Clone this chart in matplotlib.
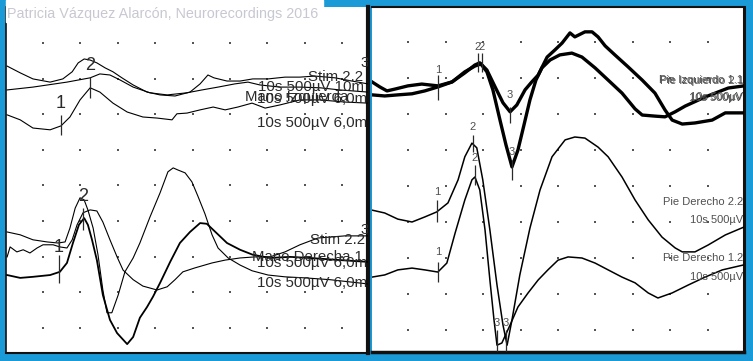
"""Evoked potential screenshot: two panels of traces on a dotted grid."""

import matplotlib.pyplot as plt
from matplotlib.patches import Rectangle

BLUE = '#1b9ad8'
INK = '#2a2a2a'
GREY = '#505050'
SANS = ['Liberation Sans', 'DejaVu Sans']

# ---- left panel (units: grid divisions, y counted down from the top) ----
top_a_x = [0.04, 0.39, 0.73, 1.19, 1.53, 1.78, 1.94, 2.10, 2.26, 2.44, 2.66, 2.87, 3.11, 3.41, 3.78,
           4.13, 4.53, 4.93, 5.20, 5.41, 5.57, 5.92, 6.27, 6.61, 7.02, 7.47, 7.87, 8.27, 8.81, 9.26, 9.69]
top_a_y = [1.65, 1.84, 2.01, 2.10, 2.01, 1.81, 1.56, 1.45, 1.48, 1.56, 1.70, 1.81, 1.98, 2.18, 2.38,
           2.46, 2.49, 2.38, 2.15, 1.90, 1.98, 2.07, 2.07, 2.01, 2.01, 1.96, 1.96, 1.93, 1.98, 2.07, 2.15]

top_b_x = [0.04, 0.73, 1.64, 2.26, 2.52, 2.79, 3.06, 3.41, 3.86, 4.32, 4.85, 5.25, 5.68, 6.13, 6.48,
           6.80, 7.34, 7.87, 8.41, 8.94, 9.69]
top_b_y = [2.32, 2.24, 2.10, 1.98, 1.87, 1.90, 2.04, 2.24, 2.40, 2.46, 2.40, 2.32, 2.24, 2.15, 2.10,
           2.18, 2.24, 2.24, 2.26, 2.32, 2.38]

top_c_x = [0.04, 0.39, 0.73, 1.19, 1.48, 1.72, 1.99, 2.26, 2.52, 2.87, 3.25, 3.67, 4.05, 4.45, 4.58,
           4.85, 5.20, 5.55, 5.87, 6.21, 6.59, 6.94, 7.34, 7.87, 8.41, 9.07, 9.69]
top_c_y = [3.02, 3.16, 3.39, 3.44, 3.33, 3.08, 2.60, 2.26, 2.38, 2.69, 2.94, 3.08, 3.11, 3.16, 2.99,
           2.97, 2.88, 2.80, 2.88, 2.80, 2.69, 2.83, 2.74, 2.60, 2.60, 2.66, 2.69]

low_d_x = [0.04, 0.39, 0.73, 1.19, 1.45, 1.64, 1.80, 1.96, 2.10, 2.20, 2.31, 2.44, 2.60, 2.79, 2.98,
           3.25, 3.41, 3.59, 3.78, 3.94, 4.13, 4.40, 4.66, 4.93, 5.20, 5.38, 5.55, 5.92, 6.27, 6.61,
           7.07, 7.60, 8.14, 8.94, 9.69]
low_d_y = [7.52, 7.60, 7.57, 7.52, 7.43, 7.18, 6.62, 6.11, 5.92, 6.11, 6.53, 7.10, 8.08, 8.78, 9.15,
           9.46, 9.26, 8.72, 8.42, 8.13, 7.74, 7.15, 6.62, 6.31, 6.06, 6.08, 6.25, 6.62, 6.81, 6.95,
           7.04, 7.01, 7.04, 7.10, 7.15]

low_e_x = [0.04, 0.39, 0.73, 1.11, 1.40, 1.59, 1.72, 1.86, 1.99, 2.10, 2.20, 2.34, 2.47, 2.60, 2.71,
           2.84, 3.01, 3.19, 3.41, 3.59, 3.86, 4.13, 4.34, 4.48, 4.61, 4.80, 4.98, 5.14, 5.33, 5.52,
           5.68, 5.95, 6.27, 6.59, 7.02, 7.47, 8.01, 8.67, 9.69]
low_e_y = [6.31, 6.39, 6.53, 6.59, 6.62, 6.59, 6.20, 5.64, 5.35, 5.41, 5.69, 6.20, 6.95, 7.94, 8.58,
           8.58, 8.08, 7.43, 7.04, 6.62, 5.89, 5.21, 4.62, 4.51, 4.57, 4.65, 4.90, 5.30, 5.80, 6.39,
           6.76, 7.04, 7.24, 7.40, 7.52, 7.57, 7.60, 7.65, 7.77]

low_f_x = [0.04, 0.12, 0.30, 0.47, 0.65, 0.84, 1.00, 1.27, 1.45, 1.64, 1.78, 1.91, 2.07, 2.26, 2.44,
           2.60, 2.79, 2.98, 3.14, 3.41, 3.67, 4.05, 4.32, 4.53, 4.74, 5.06, 5.52, 5.87, 6.27, 6.67,
           7.07, 7.47, 7.87, 8.35, 9.07, 9.69]
low_f_y = [7.01, 6.73, 6.87, 6.81, 6.90, 6.76, 6.67, 6.67, 6.73, 6.76, 6.53, 6.11, 5.77, 5.69, 5.72,
           6.03, 6.53, 7.01, 7.38, 7.65, 7.83, 7.94, 7.85, 7.65, 7.43, 7.32, 7.18, 7.10, 7.04, 7.01,
           7.01, 6.87, 6.67, 6.48, 6.42, 6.42]

# markers: label, x, tick top, tick bottom, label y
left_marks = [('1', 1.48, 3.02, 3.58, 2.69), ('2', 2.26, 1.96, 2.54, 1.62),
              ('2', 2.07, 5.64, 6.25, 5.30), ('1', 1.43, 6.95, 7.74, 6.76)]

# labels: text, x start, y
left_labels = [('Stim 2.2', 8.09, 1.96), ('3', 9.50, 1.56), ('10s 500µV 10m', 6.75, 2.24),
               ('Mano Izquierda', 6.40, 2.52), ('10s 500µV 6,0m', 6.72, 2.57),
               ('10s 500µV 6,0m', 6.72, 3.25),
               ('Stim 2.2', 8.14, 6.53), ('3', 9.50, 6.25), ('Mano Derecha 1', 6.59, 7.01),
               ('10s 500µV 6,0m', 6.72, 7.18), ('10s 500µV 6,0m', 6.72, 7.74)]

# ---- right panel ----
pie_izq_1_x = [0.03, 0.24, 0.43, 0.64, 0.99, 1.36, 1.79, 2.17, 2.51, 2.78, 2.91, 3.10, 3.32, 3.53,
               3.72, 3.90, 4.12, 4.30, 4.47, 4.71, 4.92, 5.11, 5.32, 5.45, 5.72, 5.91, 6.07, 6.26,
               6.52, 6.87, 7.25, 7.59, 7.86, 8.05, 8.32, 8.66, 9.12, 9.47, 9.97]
pie_izq_1_y = [2.11, 2.25, 2.36, 2.31, 2.22, 2.17, 2.22, 2.11, 1.86, 1.64, 1.58, 1.78, 2.25, 2.69,
               2.94, 2.75, 2.33, 2.11, 1.92, 1.42, 1.22, 1.03, 0.75, 0.86, 0.72, 0.72, 0.86, 1.11,
               1.36, 1.69, 2.06, 2.42, 2.89, 3.17, 3.28, 3.25, 3.17, 2.97, 2.97]

pie_izq_2_x = [0.03, 0.37, 0.72, 1.10, 1.44, 1.79, 2.17, 2.51, 2.78, 2.94, 3.10, 3.26, 3.45, 3.61,
               3.77, 3.93, 4.09, 4.25, 4.41, 4.57, 4.79, 5.05, 5.37, 5.64, 5.99, 6.34, 6.71, 7.06,
               7.25, 7.59, 7.86, 8.13, 8.40, 8.93, 9.55, 9.97]
pie_izq_2_y = [2.47, 2.50, 2.47, 2.44, 2.36, 2.25, 2.11, 1.83, 1.67, 1.61, 1.83, 2.33, 3.17, 3.86,
               4.47, 4.00, 3.31, 2.61, 2.06, 1.72, 1.50, 1.36, 1.31, 1.42, 1.72, 2.06, 2.42, 2.86,
               3.03, 3.06, 3.08, 2.94, 2.78, 2.53, 2.28, 2.22]

pie_der_2_x = [0.03, 0.37, 0.72, 1.10, 1.44, 1.76, 2.06, 2.33, 2.51, 2.70, 2.83, 2.99, 3.18, 3.37,
               3.53, 3.64, 3.77, 3.98, 4.25, 4.52, 4.84, 5.19, 5.45, 5.72, 6.07, 6.34, 6.71, 7.06,
               7.41, 7.78, 8.13, 8.32, 8.66, 9.01, 9.47, 9.97]
pie_der_2_y = [5.67, 5.75, 5.92, 6.00, 5.86, 5.72, 5.47, 4.83, 4.19, 3.81, 3.94, 4.83, 6.22, 7.75,
               8.86, 9.42, 8.72, 7.47, 6.17, 5.11, 4.19, 3.72, 3.64, 3.67, 3.92, 4.19, 4.75, 5.39,
               5.94, 6.42, 6.72, 6.83, 6.83, 6.64, 6.36, 6.14]

pie_der_1_x = [0.03, 0.37, 0.72, 1.10, 1.44, 1.79, 2.03, 2.25, 2.51, 2.70, 2.78, 2.91, 3.05, 3.18,
               3.29, 3.37, 3.50, 3.72, 3.93, 4.20, 4.47, 4.73, 5.00, 5.27, 5.64, 5.99, 6.34, 6.71,
               7.06, 7.41, 7.67, 8.05, 8.48, 8.93, 9.39, 9.97]
pie_der_1_y = [7.53, 7.47, 7.33, 7.28, 7.33, 7.39, 7.14, 6.31, 5.39, 4.83, 4.75, 5.11, 6.22, 7.61,
               8.72, 9.42, 9.36, 8.86, 8.36, 7.97, 7.61, 7.33, 7.06, 6.97, 7.00, 7.14, 7.33, 7.53,
               7.69, 7.97, 8.11, 7.97, 7.75, 7.53, 7.33, 7.19]

right_marks = [('1', 1.79, 1.92, 2.61, 1.78), ('2', 2.86, 1.31, 1.83, 1.14), ('2', 2.97, 1.31, 1.83, 1.14),
               ('3', 3.72, 2.81, 3.25, 2.47), ('3', 3.77, 4.28, 4.83, 4.06),
               ('2', 2.73, 3.58, 4.06, 3.36), ('2', 2.78, 4.42, 4.97, 4.22),
               ('1', 1.76, 5.39, 6.00, 5.17), ('1', 1.79, 7.11, 7.67, 6.83),
               ('3', 3.37, 9.00, 9.61, 8.81), ('3', 3.61, 9.00, 9.61, 8.81)]

# labels: text, right edge x, y
right_labels = [('Pie Izquierdo 1.1', 9.95, 2.06), ('Pie Izquierdo 2.1', 9.97, 2.09),
                ('10s 500µV', 9.95, 2.53), ('10s 500µV', 9.93, 2.56),
                ('Pie Derecho 2.2', 9.95, 5.44), ('10s 500µV', 9.95, 5.94),
                ('Pie Derecho 1.2', 9.95, 7.00), ('10s 500µV', 9.95, 7.53)]

W, H = 753, 361


def px_rect(x0, y0, x1, y1):
    return [x0 / W, 1 - y1 / H, (x1 - x0) / W, (y1 - y0) / H]


def setup(ax, xlim, ylim):
    ax.set_facecolor('white')
    ax.set_xlim(*xlim)
    ax.set_ylim(*ylim)
    ax.set_xticks([])
    ax.set_yticks([])
    gx = [i for i in range(1, 10) for j in range(1, 10)]
    gy = [j for i in range(1, 10) for j in range(1, 10)]
    ax.scatter(gx, gy, s=1.6, marker='s', color='#555555', linewidths=0, zorder=1)
    for s in ax.spines.values():
        s.set_color('#111111')


fig = plt.figure(figsize=(W / 100, H / 100), dpi=100, facecolor=BLUE)

# white strip behind the watermark
fig.patches.append(Rectangle((6 / W, 1 - 22 / H), (323 - 6) / W, 22 / H,
                             transform=fig.transFigure, color='white', zorder=0))
fig.text(7 / W, 1 - 14 / H, 'Patricia Vázquez Alarcón, Neurorecordings 2016',
         color='#c8c8d2', fontsize=10.4, family=SANS, va='center', ha='left')

ax_l = fig.add_axes(px_rect(6, 7, 368, 353))
setup(ax_l, (0.01, 9.69), (9.71, -0.01))
ax_l.spines['top'].set_visible(False)
ax_l.spines['left'].set_linewidth(1.2)
ax_l.spines['bottom'].set_linewidth(1.5)
ax_l.spines['right'].set_linewidth(3.0)

for xs, ys, lw in [(top_a_x, top_a_y, 0.8), (top_b_x, top_b_y, 0.8), (top_c_x, top_c_y, 0.8),
                   (low_e_x, low_e_y, 0.8), (low_f_x, low_f_y, 0.8), (low_d_x, low_d_y, 1.3)]:
    ax_l.plot(xs, ys, color='black', lw=lw, zorder=3)

for lab, x, t0, t1, ly in left_marks:
    ax_l.vlines(x, t0, t1, color=INK, lw=0.9, zorder=4)
    ax_l.text(x, ly, lab, ha='center', va='center', fontsize=13, family=SANS, color=INK, zorder=5)

for lab, x, y in left_labels:
    ax_l.text(x, y, lab, ha='left', va='center', fontsize=10.8, family=SANS, color=INK,
              clip_on=True, zorder=5)

ax_r = fig.add_axes(px_rect(372, 7, 744, 352))
setup(ax_r, (0.03, 9.97), (9.61, 0.03))
ax_r.spines['left'].set_visible(False)
ax_r.spines['top'].set_linewidth(1.5)
ax_r.spines['right'].set_linewidth(2.2)
ax_r.spines['bottom'].set_linewidth(2.5)

for xs, ys, lw in [(pie_izq_1_x, pie_izq_1_y, 2.4), (pie_izq_2_x, pie_izq_2_y, 2.4),
                   (pie_der_2_x, pie_der_2_y, 1.1), (pie_der_1_x, pie_der_1_y, 1.1)]:
    ax_r.plot(xs, ys, color='black', lw=lw, zorder=3)

for lab, x, t0, t1, ly in right_marks:
    ax_r.vlines(x, t0, t1, color=INK, lw=0.9, zorder=4)
    ax_r.text(x, ly, lab, ha='center', va='center', fontsize=8, family=SANS, color=GREY, zorder=5)

for lab, x, y in right_labels:
    ax_r.text(x, y, lab, ha='right', va='center', fontsize=8, family=SANS, color=GREY, zorder=5)

fig.savefig('out.png', dpi=100, facecolor=fig.get_facecolor())
